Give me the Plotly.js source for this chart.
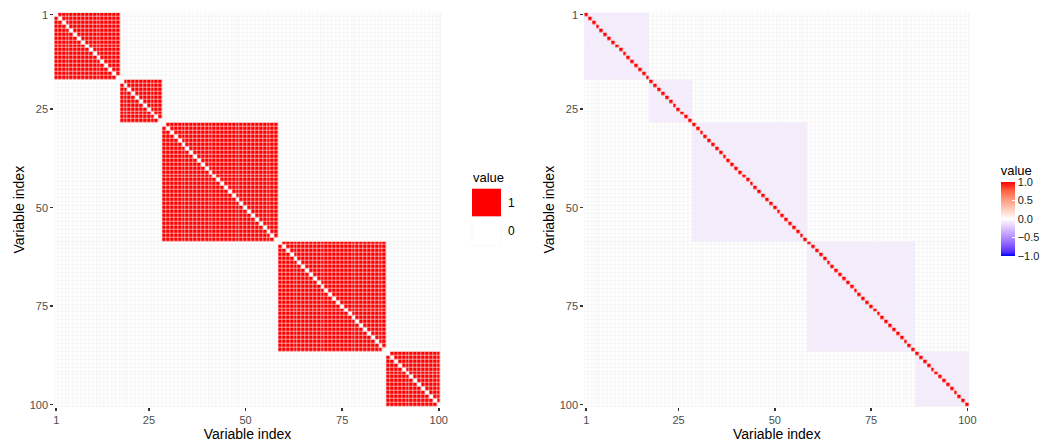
<!DOCTYPE html>
<html>
<head>
<meta charset="utf-8">
<script src="https://cdn.plot.ly/plotly-3.0.1.min.js"></script>
<style>html,body{margin:0;padding:0;background:#fff;}#chart{width:1051px;height:448px;}</style>
</head>
<body>
<div id="chart"></div>
<script>
// ---- data ----
const blockSizes = [17, 11, 30, 28, 14];          // variables per block
const nVars = 100;
const adjInBlock = 1;                             // left panel: value inside a block (off-diagonal)
const adjOutside = 0;                             // left panel: value elsewhere and on diagonal
const corrDiag = 1.0;                             // right panel: diagonal
const corrInBlock = -0.08;                        // right panel: within-block off-diagonal (estimated)
const corrOutside = 0.0;                          // right panel: between blocks
const tickVals = [1, 25, 50, 75, 100];
const tickText = ["1", "25", "50", "75", "100"];
const legendLevels = ["1", "0"];
const cbarVals = [1, 0.5, 0, -0.5, -1];
const cbarText = ["1.0", "0.5", "0.0", "\u22120.5", "\u22121.0"];

// ---- build matrices ----
const idx = Array.from({length: nVars}, (_, i) => i + 1);
const blockOf = [];
blockSizes.forEach((s, b) => { for (let k = 0; k < s; k++) blockOf.push(b); });
const zAdj = idx.map((_, i) => idx.map((_, j) => (i !== j && blockOf[i] === blockOf[j]) ? adjInBlock : adjOutside));
const zCor = idx.map((_, i) => idx.map((_, j) => i === j ? corrDiag : (blockOf[i] === blockOf[j] ? corrInBlock : corrOutside)));

const FONT = "Liberation Sans, Arial, Helvetica, sans-serif";
const W = 1051, H = 448;

const divScale = [
  [0, "rgb(0,0,255)"], [0.05, "rgb(79,43,255)"], [0.125, "rgb(126,82,255)"],
  [0.25, "rgb(179,139,255)"], [0.375, "rgb(220,196,255)"], [0.45, "rgb(242,231,255)"],
  [0.5, "rgb(255,255,255)"], [0.55, "rgb(255,236,229)"], [0.625, "rgb(255,207,191)"],
  [0.75, "rgb(255,158,130)"], [0.875, "rgb(255,102,69)"], [1, "rgb(255,0,0)"]
];

const gap = 0.6;
const cbTitleH = 19;
const traces = [
  {
    type: "heatmap", x: idx, y: idx, z: zAdj, xaxis: "x", yaxis: "y",
    zmin: 0, zmax: 1, colorscale: [[0, "#ffffff"], [1, "#ff0000"]],
    showscale: false, xgap: gap, ygap: gap, hoverinfo: "skip"
  },
  {
    type: "heatmap", x: idx, y: idx, z: zCor, xaxis: "x2", yaxis: "y2",
    zmin: -1, zmax: 1, colorscale: divScale, xgap: gap, ygap: gap, hoverinfo: "skip",
    colorbar: {
      x: 1000.7 / W, xanchor: "left", y: 1 - 256 / H, yanchor: "bottom",
      len: 75.3 + cbTitleH, lenmode: "pixels", thickness: 14.3, thicknessmode: "pixels",
      xpad: 0, ypad: 0, outlinewidth: 0,
      tickmode: "array", tickvals: cbarVals, ticktext: cbarText,
      ticks: "inside", ticklen: 3, tickcolor: "#ffffff", tickwidth: 1,
      tickfont: {family: FONT, size: 11, color: "#1a1a1a"},
      title: {text: "value", side: "top", font: {family: FONT, size: 13, color: "#000"}}
    }
  }
];

function xAx(domain, anchor) {
  return {
    domain: domain, anchor: anchor, range: [0.5, 100.5], showgrid: false, zeroline: false,
    tickmode: "array", tickvals: tickVals, ticktext: tickText,
    ticks: "outside", ticklen: 3, tickwidth: 1.5, tickcolor: "#333333",
    tickfont: {family: FONT, size: 11, color: "#4d4d4d"}, showline: false,
    title: {text: "Variable index", font: {family: FONT, size: 14, color: "#000"}, standoff: 3},
    automargin: false, fixedrange: true
  };
}
function yAx(domain, anchor) {
  return {
    domain: domain, anchor: anchor, range: [100.5, 0.5], showgrid: false, zeroline: false,
    tickmode: "array", tickvals: tickVals, ticktext: tickText,
    ticks: "outside", ticklen: 3, tickwidth: 1.5, tickcolor: "#333333",
    tickfont: {family: FONT, size: 11, color: "#4d4d4d"}, showline: false,
    title: {text: "Variable index", font: {family: FONT, size: 14, color: "#000"}, standoff: 1},
    automargin: false, fixedrange: true
  };
}

const yDom = [1 - 406.7 / H, 1 - 12.7 / H];
// left discrete legend (keys + labels)
const kx0 = 472, kx1 = 501, ky = [188.7, 216.7, 246];
const keyColors = ["#ff0000", "#ffffff"];
const shapes = [];
const annotations = [{
  xref: "paper", yref: "paper", x: 471 / W, y: 1 - 177 / H, xanchor: "left", yanchor: "middle",
  text: "value", showarrow: false, font: {family: FONT, size: 13, color: "#000"}
}];
legendLevels.forEach((lab, k) => {
  shapes.push({
    type: "rect", xref: "paper", yref: "paper",
    x0: kx0 / W, x1: kx1 / W, y0: 1 - ky[k] / H, y1: 1 - ky[k + 1] / H,
    fillcolor: keyColors[k], line: {width: k === 1 ? 0.5 : 0, color: "#f2f2f2"}
  });
  annotations.push({
    xref: "paper", yref: "paper", x: 506 / W, y: 1 - (ky[k] + ky[k + 1]) / 2 / H,
    xanchor: "left", yanchor: "middle", text: lab, showarrow: false,
    font: {family: FONT, size: 12, color: "#000"}
  });
});

const layout = {
  width: W, height: H, margin: {l: 0, r: 0, t: 0, b: 0},
  paper_bgcolor: "#ffffff", plot_bgcolor: "#efefef",
  font: {family: FONT},
  showlegend: false,
  xaxis: xAx([54.3 / W, 440.7 / W], "y"),
  yaxis: yAx(yDom, "x"),
  xaxis2: xAx([584.3 / W, 969.3 / W], "y2"),
  yaxis2: yAx(yDom, "x2"),
  shapes: shapes,
  annotations: annotations
};

Plotly.newPlot("chart", traces, layout, {displayModeBar: false, staticPlot: true});
</script>
</body>
</html>
